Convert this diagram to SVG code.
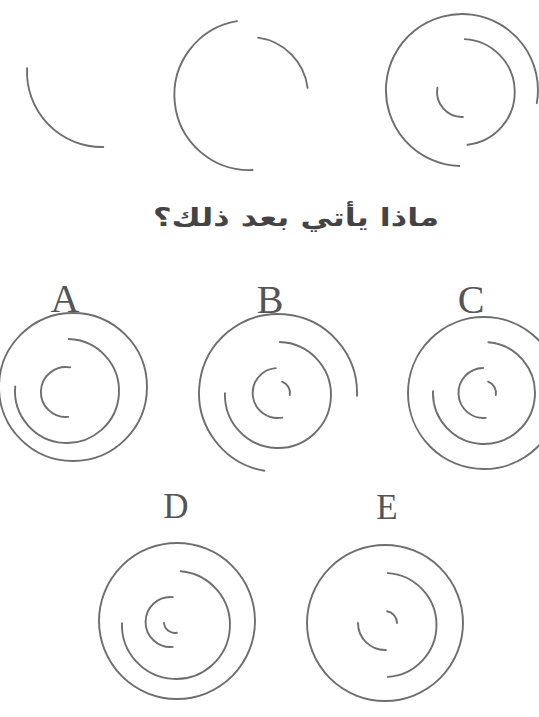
<svg xmlns="http://www.w3.org/2000/svg" width="539" height="717" viewBox="0 0 539 717">
<style>
.s{fill:none;stroke:#6e6e6e;stroke-width:1.9;stroke-linecap:round}
.lbl{font-family:"Liberation Serif","Times New Roman",serif;fill:#555;text-anchor:middle}
.q{font-family:"DejaVu Sans","Noto Sans",sans-serif;font-weight:bold;fill:#444;font-size:25px;text-anchor:middle}
</style>
<rect width="539" height="717" fill="#fff"/>
<g id="fig1">
<path class="s" d="M27.1,68.1 A75,75 0 0 0 103.3,147.0"/>
</g>
<g id="fig2">
<path class="s" d="M237.0,21.1 A75,75 0 0 0 252.6,170.0"/>
<path class="s" d="M258.1,37.6 A58,58 0 0 1 307.6,87.9"/>
</g>
<g id="fig3">
<path class="s" d="M459.3,166.0 A76,76 0 1 1 536.8,103.2"/>
<path class="s" d="M464.8,39.1 A53,53 0 0 1 467.5,144.7"/>
<path class="s" d="M437.4,87.7 A25,25 0 0 0 462.9,117.0"/>
</g>
<g id="question">
<text class="q" x="296" y="226" direction="rtl" textLength="286" lengthAdjust="spacingAndGlyphs">ماذا يأتي بعد ذلك؟</text>
</g>
<g id="optA">
<text class="lbl" x="65" y="312" font-size="40">A</text>
<circle class="s" cx="73" cy="387" r="74"/>
<path class="s" d="M68.8,339.0 A52,52 0 1 1 15.2,386.5"/>
<path class="s" d="M70.3,367.4 A25,25 0 1 0 68.2,416.9"/>
</g>
<g id="optB">
<text class="lbl" x="270" y="313" font-size="40">B</text>
<path class="s" d="M357.0,395.8 A79,79 0 1 0 264.3,470.8"/>
<path class="s" d="M279.8,342.0 A53,53 0 1 1 225.0,393.2"/>
<path class="s" d="M275.8,368.1 A25,25 0 1 0 282.3,417.6"/>
<path class="s" d="M282.1,381.7 A12,12 0 0 1 289.8,395.1"/>
</g>
<g id="optC">
<text class="lbl" x="471" y="313" font-size="40">C</text>
<circle class="s" cx="484" cy="393" r="76"/>
<path class="s" d="M488.4,342.2 A51,51 0 1 1 433.0,391.2"/>
<path class="s" d="M483.1,368.0 A25,25 0 1 0 485.7,417.9"/>
<path class="s" d="M488.1,381.7 A12,12 0 0 1 495.8,395.1"/>
</g>
<g id="optD">
<text class="lbl" x="176" y="518" font-size="35">D</text>
<circle class="s" cx="177" cy="621" r="78"/>
<path class="s" d="M180.7,571.2 A54,54 0 1 1 122.0,623.1"/>
<path class="s" d="M172.8,597.1 A25,25 0 1 0 172.8,646.9"/>
<path class="s" d="M164.0,623.0 A11,11 0 0 0 176.9,632.8"/>
</g>
<g id="optE">
<text class="lbl" x="387" y="519" font-size="35">E</text>
<circle class="s" cx="385" cy="623" r="78"/>
<path class="s" d="M387.7,573.1 A52,52 0 0 1 387.7,676.9"/>
<path class="s" d="M358,623 A27,27 0 0 0 385.9,650.0"/>
<path class="s" d="M387.1,611.2 A12,12 0 0 1 397,623"/>
</g>
</svg>
